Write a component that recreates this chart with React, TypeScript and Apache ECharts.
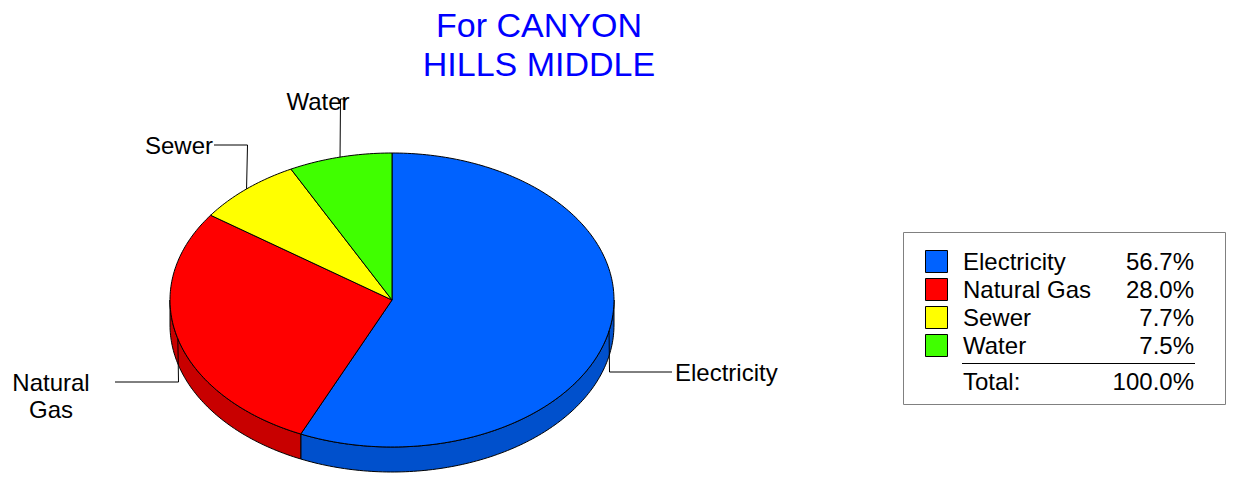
import React, { useEffect, useRef } from "react";
import * as echarts from "echarts";

const categories = ["Electricity", "Natural Gas", "Sewer", "Water"];
const values = [56.74, 28.04, 7.7, 7.52];
const pieLabels = ["Electricity", "Natural\nGas", "Sewer", "Water"];
const titleText = "For CANYON\nHILLS MIDDLE";

const topColors = ["#0062FF", "#FF0000", "#FFFF00", "#40FF00"];
const sideColors = ["#0050CC", "#C80000", "#CCCC00", "#30CC00"];

// layout (pixels)
const CX = 392, CY = 300, RX = 222, RY = 147, DEPTH = 25;
// leader layout: bend y, end x, label anchor
const leaders = [
  { by: 372, ex: 672, lx: 675, ly: 372, align: "left" },
  { by: 382, ex: 115, lx: 51, ly: 396, align: "center" },
  { by: 145, ex: 214, lx: 213, ly: 145, align: "right" },
  { by: 99, ex: 347, lx: 318, ly: 101, align: "center" },
];
const FONT = 'Arial, "Liberation Sans", sans-serif';

function pt(deg: number, dy = 0): number[] {
  const r = (deg * Math.PI) / 180;
  return [CX + RX * Math.sin(r), CY - RY * Math.cos(r) + dy];
}
function arc(a: number, b: number, dy = 0): number[][] {
  const pts: number[][] = [];
  const n = Math.max(2, Math.ceil(Math.abs(b - a)));
  for (let i = 0; i <= n; i++) pts.push(pt(a + ((b - a) * i) / n, dy));
  return pts;
}

export default function App() {
  const ref = useRef<HTMLDivElement>(null);
  useEffect(() => {
    const chart = echarts.init(ref.current!, null, { renderer: "svg" });
    const total = values.reduce((s, v) => s + v, 0);
    const starts: number[] = [];
    let acc = 0;
    values.forEach((v) => {
      starts.push(acc);
      acc += v;
    });

    const renderItem = (params: any, api: any) => {
      const i = params.dataIndex;
      const v = api.value(0);
      const a = (starts[i] / total) * 360;
      const b = a + (v / total) * 360;
      const children: any[] = [];
      const s = Math.max(a, 90), e = Math.min(b, 270);
      if (e > s) {
        const pts = arc(s, e).concat(arc(e, s, DEPTH));
        children.push({
          type: "polygon",
          shape: { points: pts },
          style: { fill: sideColors[i], stroke: "#000", lineWidth: 1 },
        });
      }
      children.push({
        type: "polygon",
        shape: { points: [[CX, CY]].concat(arc(a, b)) },
        style: { fill: topColors[i], stroke: "#000", lineWidth: 1 },
      });
      const m = pt((a + b) / 2);
      const L = leaders[i];
      children.push({
        type: "polyline",
        shape: { points: [m, [Math.round(m[0]) + 0.5, L.by], [L.ex, L.by]] },
        style: { stroke: "#000", lineWidth: 1, fill: "none" },
      });
      children.push({
        type: "text",
        x: L.lx,
        y: L.ly,
        style: {
          text: pieLabels[i],
          fill: "#000",
          font: `24px ${FONT}`,
          align: L.align,
          verticalAlign: "middle",
          lineHeight: 27,
        },
      });
      return { type: "group", children };
    };

    // legend built from data
    const legendEls: any[] = [
      {
        type: "rect",
        shape: { x: 903.5, y: 232.5, width: 322, height: 172 },
        style: { fill: "#fff", stroke: "#808080", lineWidth: 1 },
      },
    ];
    categories.forEach((c, i) => {
      const yc = 261.5 + i * 28;
      legendEls.push({
        type: "rect",
        shape: { x: 925.5, y: yc - 11, width: 22, height: 22 },
        style: { fill: topColors[i], stroke: "#000", lineWidth: 1 },
      });
      legendEls.push({
        type: "text",
        x: 963,
        y: yc,
        style: { text: c, font: `24px ${FONT}`, fill: "#000", verticalAlign: "middle" },
      });
      legendEls.push({
        type: "text",
        x: 1194,
        y: yc,
        style: {
          text: ((values[i] / total) * 100).toFixed(1) + "%",
          font: `24px ${FONT}`,
          fill: "#000",
          align: "right",
          verticalAlign: "middle",
        },
      });
    });
    legendEls.push({
      type: "line",
      shape: { x1: 962, y1: 363.5, x2: 1195, y2: 363.5 },
      style: { stroke: "#000", lineWidth: 1 },
    });
    legendEls.push({
      type: "text",
      x: 963,
      y: 381,
      style: { text: "Total:", font: `24px ${FONT}`, fill: "#000", verticalAlign: "middle" },
    });
    legendEls.push({
      type: "text",
      x: 1194,
      y: 381,
      style: {
        text: ((total / total) * 100).toFixed(1) + "%",
        font: `24px ${FONT}`,
        fill: "#000",
        align: "right",
        verticalAlign: "middle",
      },
    });
    legendEls.push({
      type: "text",
      x: 539,
      y: 5,
      style: {
        text: titleText,
        font: `34px ${FONT}`,
        fill: "#0000FF",
        align: "center",
        verticalAlign: "top",
        lineHeight: 39,
      },
    });

    chart.setOption({
      animation: false,
      backgroundColor: "#fff",
      graphic: legendEls,
      series: [
        {
          type: "custom",
          coordinateSystem: "none",
          renderItem,
          data: values.map((v, i) => ({ name: categories[i], value: [v] })),
        },
      ],
    });
    return () => chart.dispose();
  }, []);
  return (
    <div
      ref={ref}
      style={{ position: "fixed", left: 0, top: 0, width: 1233, height: 487 }}
    />
  );
}
